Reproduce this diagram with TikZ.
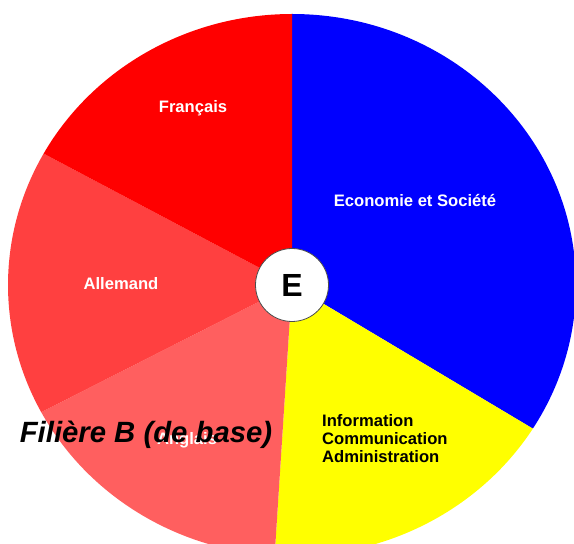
\documentclass[tikz,border=0pt]{standalone}
\usepackage{fontspec}
\setmainfont{Liberation Sans}
\definecolor{colFr}{RGB}{255,0,0}
\definecolor{colEco}{RGB}{0,0,255}
\definecolor{colIca}{RGB}{255,255,0}
\definecolor{colAngl}{RGB}{255,95,95}
\definecolor{colAll}{RGB}{255,64,64}
\tikzset{
  lbl/.style={font=\fontsize{16.6}{18}\selectfont\bfseries, text=white, inner sep=0pt},
}

\begin{document}
\begin{tikzpicture}[x=1pt,y=1pt]
\useasboundingbox (0,0) rectangle (574,544);
\clip (0,0) rectangle (574,544);
\coordinate (c) at (292,259);
% the five sectors
\foreach \a/\b/\col in {90/-32/colEco, -32/-93.5/colIca, -93.5/-152/colAngl, -152/-209/colAll, -209/-270/colFr}
  \fill[\col] (c) -- ++(\a:284 and 271) arc[start angle=\a, end angle=\b, x radius=284, y radius=271] -- cycle;
\node[lbl, anchor=base] (fr) at (193,431) {Français};
\node[lbl, anchor=base] (eco) at (415,337) {Economie et Société};
\node[lbl, anchor=base] (all) at (121,254) {Allemand};
\node[lbl, anchor=base] (angl) at (187,99) {Anglais};
\node[lbl, text=black, align=left, anchor=north west] (ica) at (322,130) {Information\\Communication\\Administration};
\node[circle, draw=black!70, line width=.8pt, fill=white, minimum size=73pt, inner sep=0pt, font=\fontsize{32}{34}\selectfont\bfseries] (e) at (c) {E};
\node[font=\fontsize{29.3}{31}\selectfont\bfseries\itshape, inner sep=0pt, anchor=base] (titre) at (146,101) {Filière B (de base)};
\end{tikzpicture}
\end{document}
